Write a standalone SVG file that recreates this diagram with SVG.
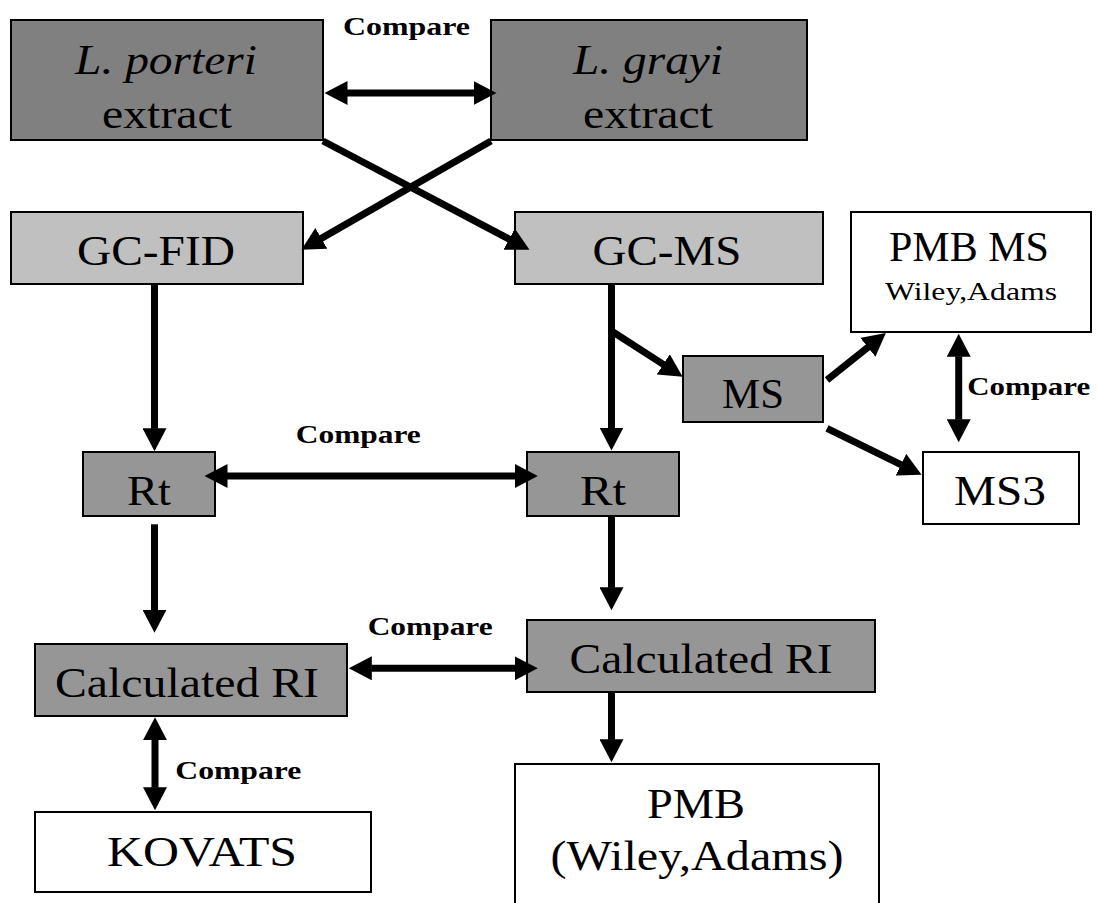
<svg xmlns="http://www.w3.org/2000/svg" width="1097" height="903" viewBox="0 0 1097 903">
<style>
.box{stroke:#000;stroke-width:2}
.dark{fill:#808080}
.light{fill:#c0c0c0}
.mid{fill:#969696}
.white{fill:#fff}
text{font-family:'Liberation Serif',Tinos,'Times New Roman',Times,'Noto Serif',serif}
.t{font-size:43px;fill:#000;text-anchor:middle}
.i{font-style:italic}
.s{font-size:26px}
.c{font-size:25px;font-weight:bold;fill:#000;text-anchor:middle}
.ln{stroke:#000;stroke-width:7;fill:none}
.one{marker-end:url(#ah)}
.two{marker-start:url(#ah);marker-end:url(#ah)}
</style>
<defs>
<marker id="ah" markerUnits="userSpaceOnUse" markerWidth="24" markerHeight="24" refX="0.5" refY="12" orient="auto-start-reverse">
<path d="M0,0 L23,12 L0,24 Z" fill="#000"/>
</marker>
</defs>
<rect width="1097" height="903" fill="#fff"/>

<g id="node-porteri">
<rect class="box dark" x="11" y="20" width="312" height="120"/>
<text class="t i" x="166" y="74" textLength="182" lengthAdjust="spacingAndGlyphs">L. porteri</text>
<text class="t" x="167" y="128" textLength="130" lengthAdjust="spacingAndGlyphs">extract</text>
</g>
<g id="node-grayi">
<rect class="box dark" x="491" y="20" width="316" height="120"/>
<text class="t i" x="648" y="74" textLength="150" lengthAdjust="spacingAndGlyphs">L. grayi</text>
<text class="t" x="648" y="128" textLength="130" lengthAdjust="spacingAndGlyphs">extract</text>
</g>
<g id="node-gcfid">
<rect class="box light" x="11" y="212" width="292" height="72"/>
<text class="t" x="156" y="265" textLength="158" lengthAdjust="spacingAndGlyphs">GC-FID</text>
</g>
<g id="node-gcms">
<rect class="box light" x="515" y="212" width="308" height="72"/>
<text class="t" x="667" y="265" textLength="149" lengthAdjust="spacingAndGlyphs">GC-MS</text>
</g>
<g id="node-pmbms">
<rect class="box white" x="851" y="212" width="240" height="120"/>
<text class="t" x="969" y="261" textLength="160" lengthAdjust="spacingAndGlyphs">PMB MS</text>
<text class="t s" x="971" y="300" textLength="172" lengthAdjust="spacingAndGlyphs">Wiley,Adams</text>
</g>
<g id="node-ms">
<rect class="box mid" x="683" y="356" width="140" height="66"/>
<text class="t" x="753" y="408" textLength="62" lengthAdjust="spacingAndGlyphs">MS</text>
</g>
<g id="node-ms3">
<rect class="box white" x="923" y="452" width="156" height="72"/>
<text class="t" x="1000" y="505" textLength="92" lengthAdjust="spacingAndGlyphs">MS3</text>
</g>
<g id="node-rt-left">
<rect class="box mid" x="83" y="452" width="132" height="64"/>
<text class="t" x="149" y="505" textLength="44" lengthAdjust="spacingAndGlyphs">Rt</text>
</g>
<g id="node-rt-right">
<rect class="box mid" x="527" y="452" width="152" height="64"/>
<text class="t" x="603" y="505" textLength="46" lengthAdjust="spacingAndGlyphs">Rt</text>
</g>
<g id="node-calcri-left">
<rect class="box mid" x="35" y="644" width="312" height="72"/>
<text class="t" x="187" y="697" textLength="264" lengthAdjust="spacingAndGlyphs">Calculated RI</text>
</g>
<g id="node-calcri-right">
<rect class="box mid" x="527" y="620" width="348" height="72"/>
<text class="t" x="701" y="673" textLength="263" lengthAdjust="spacingAndGlyphs">Calculated RI</text>
</g>
<g id="node-kovats">
<rect class="box white" x="35" y="812" width="336" height="80"/>
<text class="t" x="202" y="866" textLength="190" lengthAdjust="spacingAndGlyphs">KOVATS</text>
</g>
<g id="node-pmb">
<rect class="box white" x="515" y="764" width="364" height="200"/>
<text class="t" x="696" y="818" textLength="98" lengthAdjust="spacingAndGlyphs">PMB</text>
<text class="t" x="697" y="870" textLength="293" lengthAdjust="spacingAndGlyphs">(Wiley,Adams)</text>
</g>

<g id="connectors">
<line class="ln two" x1="347" y1="93" x2="474" y2="93"/>
<line class="ln one" x1="323" y1="141" x2="509.6" y2="239.3"/>
<line class="ln one" x1="491" y1="141" x2="320.9" y2="238.6"/>
<line class="ln one" x1="154.5" y1="284" x2="154.5" y2="428.7"/>
<line class="ln two" x1="227" y1="476" x2="515.3" y2="476"/>
<line class="ln one" x1="154.5" y1="524.3" x2="154.5" y2="610.3"/>
<line class="ln one" x1="611.5" y1="284" x2="611.5" y2="428"/>
<line class="ln one" x1="611.5" y1="331" x2="663.7" y2="364.6"/>
<line class="ln one" x1="827" y1="380" x2="868.3" y2="347"/>
<line class="ln one" x1="827" y1="428.3" x2="901.4" y2="464.9"/>
<line class="ln two" x1="958.7" y1="356.3" x2="958.7" y2="419.7"/>
<line class="ln one" x1="611.5" y1="516" x2="611.5" y2="587.7"/>
<line class="ln two" x1="371.3" y1="668.3" x2="515.3" y2="668.3"/>
<line class="ln two" x1="155" y1="739.7" x2="155" y2="787.7"/>
<line class="ln one" x1="611.5" y1="692.3" x2="611.5" y2="739.7"/>
</g>

<g id="labels">
<text class="c" x="406.5" y="35" textLength="127" lengthAdjust="spacingAndGlyphs">Compare</text>
<text class="c" x="358.3" y="443" textLength="125" lengthAdjust="spacingAndGlyphs">Compare</text>
<text class="c" x="430.2" y="635" textLength="125" lengthAdjust="spacingAndGlyphs">Compare</text>
<text class="c" x="1028.7" y="395" textLength="123" lengthAdjust="spacingAndGlyphs">Compare</text>
<text class="c" x="238.3" y="779" textLength="126" lengthAdjust="spacingAndGlyphs">Compare</text>
</g>
</svg>
